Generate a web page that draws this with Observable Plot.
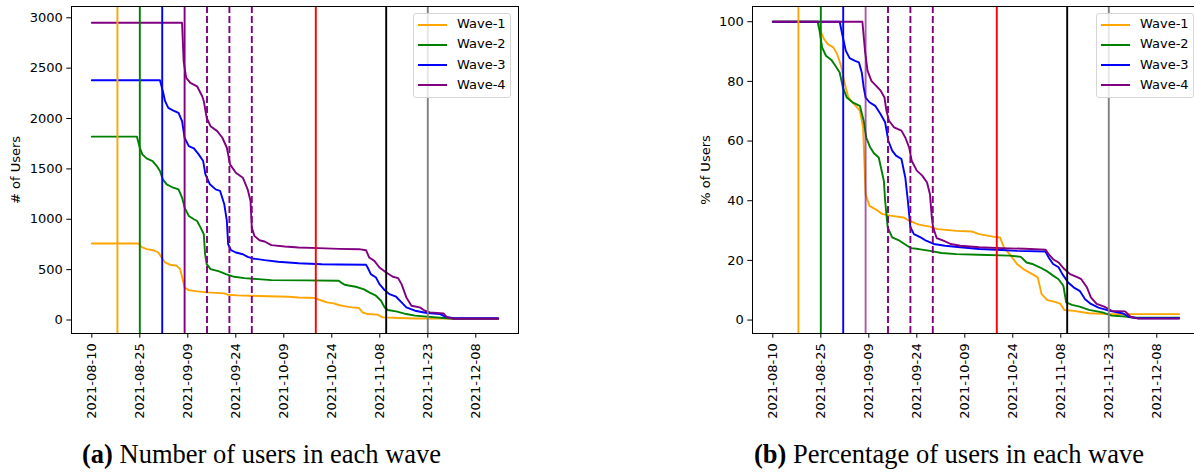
<!DOCTYPE html>
<html><head><meta charset="utf-8">
<script src="https://cdn.jsdelivr.net/npm/d3@7"></script>
<script src="https://cdn.jsdelivr.net/npm/@observablehq/plot@0.6"></script>
<style>
html,body{margin:0;padding:0;background:#fff;}
#fig{position:relative;width:1194px;height:472px;overflow:hidden;background:#fff;}
.panel{position:absolute;top:0;}
.legend{position:absolute;top:12.5px;width:96px;height:83px;border:1px solid #d6d6d6;border-radius:3px;background:rgba(255,255,255,0.8);font:13px "DejaVu Sans",sans-serif;color:#000;}
.legend .ln{position:absolute;left:4px;width:29px;height:2px;}
.legend .tx{position:absolute;left:43px;line-height:14px;white-space:nowrap;}
.caption{position:absolute;font-family:"Liberation Serif",serif;font-size:26.5px;color:#000;white-space:nowrap;line-height:26px;}
</style></head>
<body>
<div id="fig"></div>
<script>
// ---------------- data ----------------
const waves = ["Wave-1", "Wave-2", "Wave-3", "Wave-4"];
const startDate = "2021-08-10"; // day 0 of the series
const xTickDates = ["2021-08-10","2021-08-25","2021-09-09","2021-09-24","2021-10-09","2021-10-24","2021-11-08","2021-11-23","2021-12-08"];
const yTicksCount = [0, 500, 1000, 1500, 2000, 2500, 3000];
const yTicksPct = [0, 20, 40, 60, 80, 100];

// [days since 2021-08-10, number of users]
const countWave1 = [[0,760],[14.5,760],[15.5,726],[17.1,703],[19.2,693],[20.8,670],[21.8,620],[22.9,571],[24.5,548],[26.6,538],[27.6,505],[28.5,389],[29,323],[30.3,297],[32.9,284],[36.1,274],[41.4,264],[42.4,251],[45.6,244],[51.9,238],[61.4,231],[64.6,224],[70,218],[70.5,208],[72,191],[73.5,175],[75.6,165],[77.2,149],[79.3,135],[81.4,125],[83.5,119],[84.6,76],[86.2,59],[89.3,53],[90.9,26],[96.1,20],[101.5,15],[127,15]];
const countWave2 = [[0,1820],[14.1,1820],[15,1710],[15.8,1644],[17.1,1604],[19,1578],[20.3,1528],[21.3,1479],[22.2,1396],[23.4,1347],[25,1320],[27.1,1297],[28.2,1215],[29,1116],[30.3,1033],[31.9,1000],[32.9,983],[34,917],[35,851],[35.4,653],[35.9,554],[37.1,505],[39.8,482],[41.9,455],[44.5,429],[47.7,416],[51.9,406],[56.1,396],[66.7,393],[77.2,389],[78.3,363],[79.3,347],[82.5,330],[85.1,304],[86.7,274],[88.8,241],[90.4,191],[91.5,125],[92.5,99],[95.1,86],[98.3,59],[101,43],[104.7,33],[109.9,20],[113.1,12],[127,12]];
const countWave3 = [[0,2380],[21.3,2380],[22.2,2271],[22.9,2172],[23.9,2106],[25.5,2079],[27.1,2056],[28.2,1974],[29,1809],[30.3,1726],[31.9,1703],[33.4,1644],[34.8,1578],[35.5,1446],[36.9,1347],[38.7,1297],[40.1,1281],[41.4,1149],[42.2,983],[42.6,752],[43.5,693],[45,670],[47.2,653],[48.7,627],[50.3,611],[54,594],[58.2,578],[64.6,564],[71.9,554],[77.2,551],[85.7,548],[86.2,521],[87.2,455],[88.8,422],[89.9,356],[91.5,297],[93,257],[95.1,231],[96.8,175],[98.3,125],[101,92],[104.7,69],[108.9,59],[110.4,33],[113.1,18],[127,18]];
const countWave4 = [[0,2950],[28.2,2950],[28.7,2568],[29.5,2403],[30.8,2353],[32.9,2320],[34.5,2221],[35,2172],[35.9,2007],[37.1,1924],[39.2,1875],[40.8,1809],[42.2,1710],[43.2,1545],[45,1462],[47.2,1413],[48.7,1297],[49.6,1181],[50,917],[50.8,835],[52.4,792],[54,779],[56.1,743],[60.3,729],[64.6,719],[70.9,713],[77.2,706],[83.5,703],[85.7,693],[86.7,620],[88.3,587],[89.9,521],[92,472],[94.1,429],[95.7,416],[96.8,356],[98.3,224],[99.9,142],[102.5,125],[104.1,92],[105.7,76],[109.9,66],[111,26],[113.1,12],[127,12]];

// [days since 2021-08-10, % of users]
const pctWave1 = [[0,100],[14.2,100],[15.1,96.4],[16,94.2],[17.2,92.5],[18.9,91.4],[20.1,89.2],[21.3,85.3],[22.5,79.1],[23.6,74.6],[25.4,72.4],[27.2,70.2],[28.2,64.6],[29,42.2],[30.2,38.3],[32,37.2],[34.3,35.5],[36.7,35],[40.8,34.4],[42.6,33.3],[45.6,32],[49.1,31.3],[51.5,30.5],[57.4,29.9],[62.1,29.7],[64.5,28.8],[69.2,27.9],[71,27.7],[72.2,24.4],[74,22.1],[76.3,18.8],[78.7,16.8],[81.1,15.4],[82.8,14.3],[84,8.7],[85.8,6.7],[88.2,6.1],[89.9,5.4],[91.1,3.4],[94.1,3.1],[98.8,2.3],[105.3,2.0],[127,2.0]];
const pctWave2 = [[0,100],[14,100],[14.6,97],[15.4,91.4],[16.6,88.6],[18.3,87.2],[19.5,85.3],[20.9,83],[21.9,78],[23.1,74.6],[24.9,73],[27.2,71.8],[28.4,66.8],[29.2,61.2],[30.4,57.9],[31.6,55.9],[33.1,54.5],[34.7,46.7],[35.1,40],[35.9,31.1],[37.3,27.7],[39.6,26.6],[42,24.9],[43.2,24.1],[45.6,23.8],[49.1,23.2],[52.7,22.5],[57.4,22.1],[64.5,21.9],[74,21.6],[77.5,21.2],[79.3,19.3],[81.1,18.8],[83.4,17.7],[85.8,16.3],[87.6,14.9],[89.3,13.7],[90.8,11.5],[91.7,5.9],[93.5,5.1],[95.9,4.5],[98.8,3.4],[103,2.6],[105.9,1.5],[110.1,1.2],[113,0.8],[127,0.8]];
const pctWave3 = [[0,100],[20.9,100],[21.9,94.7],[22.8,90.3],[24,87.8],[25.7,86.9],[26.9,86.4],[27.8,83],[28.4,78],[29,74.6],[30.2,73],[32,71.8],[33.7,69],[35.1,66.3],[36.1,60.1],[37.3,56.8],[38.5,55.1],[40.2,54],[41.4,47.8],[42.2,40],[43,31.1],[44.1,28.8],[46.2,27.7],[47.9,26.6],[50.3,25.5],[53.8,24.9],[58.6,24.4],[64.5,23.8],[71.6,23.5],[76.3,23.2],[85.2,23],[86.2,21],[87.6,18.8],[89.3,17.7],[90.5,15.4],[92.3,12.6],[94.1,10.9],[95.9,9.8],[97.6,7],[99.4,5.4],[101.8,4.2],[105.3,3.1],[109.5,2.2],[111.2,1.1],[114.2,0.6],[127,0.6]];
const pctWave4 = [[0,100],[28,100],[28.8,90.3],[29.6,83.6],[30.8,80.2],[32.3,78.5],[33.7,76.9],[34.9,74.6],[35.5,70.2],[36.3,66.8],[37.9,64.6],[40.2,63.5],[41.4,61.2],[42.6,57.9],[43.4,53.4],[45,50.1],[46.7,48.4],[48.2,46.1],[49.1,42.2],[49.7,34.4],[50.1,31.1],[51.2,27.5],[53.3,26.6],[55.6,25.5],[58.6,24.9],[64.5,24.4],[71.6,24.1],[78.7,23.9],[85.2,23.6],[86.2,22.1],[87.6,20.4],[89.3,19.3],[91.1,17.1],[92.9,15.4],[95.3,14.3],[96.4,13.7],[98.2,10.9],[99.4,7.6],[101.2,5.4],[103.6,4.5],[105.9,3.1],[110.1,2.9],[111.8,1.1],[114.2,0.5],[127,0.5]];

// vertical event markers
const eventDates = ["2021-08-18","2021-08-25","2021-09-01","2021-09-08","2021-09-15","2021-09-22","2021-09-29","2021-10-19","2021-11-10","2021-11-23"];
const eventKinds = ["Wave-1","Wave-2","Wave-3","Wave-4","reminder","reminder","reminder","event-a","event-b","event-c"];

// ---------------- styling ----------------
const waveColor = {"Wave-1":"#ffa500","Wave-2":"#008000","Wave-3":"#0000ff","Wave-4":"#800080"};
const eventColor = {...waveColor, "reminder":"#800080", "event-a":"#ff0000", "event-b":"#000000", "event-c":"#808080"};

const t0 = Date.parse(startDate + "T00:00:00Z");
const dayToDate = d => new Date(t0 + d * 864e5);
const xDomain = [dayToDate(-6.35), dayToDate(133.35)];

function series(pairs) { return pairs.map(([d, v]) => ({date: dayToDate(d), value: v})); }

function panel({seriesList, yDomain, yTicks, yLabel, labelDx, solidWave4Opacity}) {
  const marks = [];
  seriesList.forEach((s, i) => {
    marks.push(Plot.line(series(s), {x: "date", y: "value", stroke: waveColor[waves[i]], strokeWidth: 1.9}));
  });
  eventDates.forEach((d, i) => {
    const k = eventKinds[i];
    marks.push(Plot.ruleX([new Date(d + "T00:00:00Z")], {
      stroke: eventColor[k], strokeWidth: 1.9,
      strokeDasharray: k === "reminder" ? "7,3" : null,
      strokeOpacity: k === "Wave-4" ? solidWave4Opacity : 1
    }));
  });
  marks.push(Plot.frame({stroke: "#000", strokeWidth: 1}));
  marks.push(Plot.axisY({ticks: yTicks, tickFormat: d => String(d), tickSize: 4.7, tickPadding: 4, label: null, fontSize: 13}));
  marks.push(Plot.axisX({ticks: xTickDates.map(d => new Date(d + "T00:00:00Z")), tickFormat: d3.utcFormat("%Y-%m-%d"), tickRotate: -90, tickSize: 4.7, tickPadding: 5, label: null, fontSize: 13}));
  marks.push(Plot.text([yLabel], {text: d => d, frameAnchor: "left", rotate: -90, dx: labelDx, fontSize: 13, lineAnchor: "middle", textAnchor: "middle"}));
  return Plot.plot({
    width: 530, height: 430,
    marginLeft: 71, marginRight: 12, marginTop: 6, marginBottom: 97,
    x: {type: "utc", domain: xDomain},
    y: {domain: yDomain},
    style: {fontFamily: "DejaVu Sans", fontSize: "13px", color: "#000", background: "transparent", overflow: "visible"},
    marks
  });
}

const fig = document.getElementById("fig");
const left = panel({seriesList: [countWave1, countWave2, countWave3, countWave4], yDomain: [-134, 3112], yTicks: yTicksCount, yLabel: "# of Users", labelDx: -56, solidWave4Opacity: 1});
left.classList.add("panel"); left.style.left = "0px";
fig.appendChild(left);
const right = panel({seriesList: [pctWave1, pctWave2, pctWave3, pctWave4], yDomain: [-4.5, 105.1], yTicks: yTicksPct, yLabel: "% of Users", labelDx: -47, solidWave4Opacity: 0.65});
right.classList.add("panel"); right.style.left = "681px";
fig.appendChild(right);

function legend(x) {
  const box = document.createElement("div");
  box.className = "legend";
  box.style.left = x + "px";
  waves.forEach((w, i) => {
    const cy = 11.2 + i * 20.2;
    const ln = document.createElement("div");
    ln.className = "ln"; ln.style.top = (cy - 1) + "px"; ln.style.background = waveColor[w];
    const tx = document.createElement("div");
    tx.className = "tx"; tx.style.top = (cy - 7.5) + "px"; tx.textContent = w;
    box.appendChild(ln); box.appendChild(tx);
  });
  fig.appendChild(box);
}
legend(413);
legend(1096);

function caption(x, tag, text) {
  const c = document.createElement("div");
  c.className = "caption";
  c.style.left = x + "px"; c.style.top = "441px";
  const b = document.createElement("b"); b.textContent = tag;
  c.appendChild(b); c.appendChild(document.createTextNode(" " + text));
  fig.appendChild(c);
}
caption(82, "(a)", "Number of users in each wave");
caption(754, "(b)", "Percentage of users in each wave");
</script>
</body></html>
